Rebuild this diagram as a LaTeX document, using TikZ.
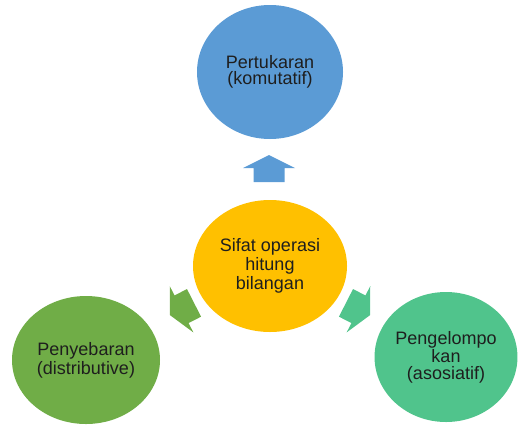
\documentclass[tikz,border=0pt]{standalone}
\usepackage{fontspec}
\setmainfont{Liberation Sans}
\usetikzlibrary{shapes.geometric}
\definecolor{opblue}{HTML}{5B9BD5}
\definecolor{opgold}{HTML}{FFC000}
\definecolor{opgreen}{HTML}{70AD47}
\definecolor{opmint}{HTML}{50C48C}
\definecolor{txtdark}{HTML}{1E1E1E}
\begin{document}
\begin{tikzpicture}[
  x=0.5pt, y=0.5pt,
  bubble/.style={ellipse, fill=#1, inner sep=0pt, align=center,
    text=txtdark, font=\fontsize{9}{8.25}\selectfont},
  pics/blockarr/.style={code={
    \fill[#1] (-13.5,-15.5) -- (0.5,-15.5) -- (0.5,-26) -- (13.5,0)
      -- (0.5,26) -- (0.5,15.5) -- (-13.5,15.5) -- cycle;
  }},
]
\useasboundingbox (0,0) rectangle (518,425);

% Centre
\node[bubble=opgold, minimum width=77pt, minimum height=66pt] (sifat) at (270,159)
  {Sifat operasi\\hitung\\bilangan};

% Three properties
\node[bubble=opblue, minimum width=73pt, minimum height=67pt] (tukar) at (270,353)
  {Pertukaran\\(komutatif)};
\node[bubble=opgreen, minimum width=74pt, minimum height=64pt] (sebar) at (86,65)
  {Penyebaran\\(distributive)};
\node[bubble=opmint, minimum width=70pt, minimum height=65pt] (kelompok) at (446,68)
  {Pengelompo\\kan\\(asosiatif)};

% Block arrows out of the centre
\pic[rotate=90] (arrtukar) at (269,256.5) {blockarr=opblue};
\pic[rotate=207] (arrsebar) at (182,116) {blockarr=opgreen};
\pic[rotate=333] (arrkelompok) at (358,116) {blockarr=opmint};

\end{tikzpicture}
\end{document}
